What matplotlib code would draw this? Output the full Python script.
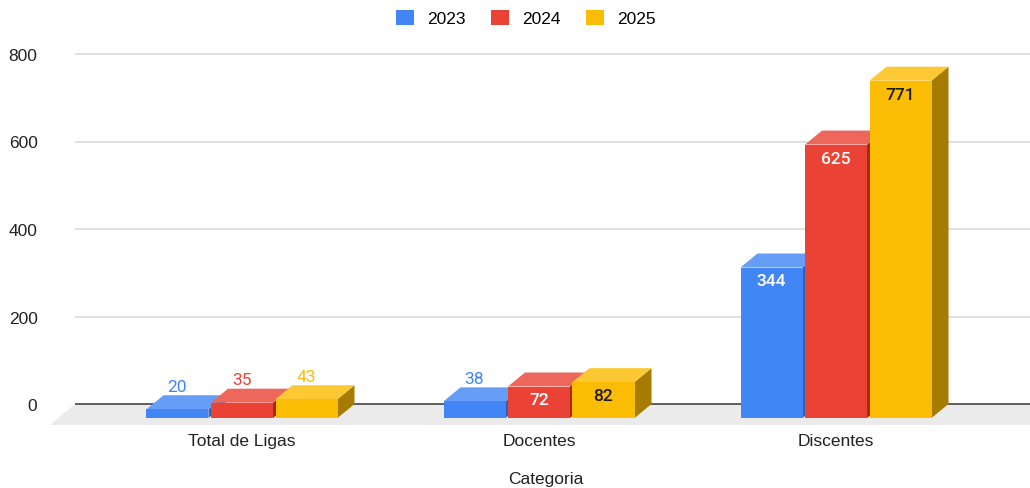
import matplotlib.pyplot as plt
from matplotlib.patches import Polygon, Patch

# ----------------------------
# Data
# ----------------------------
categories = ["Total de Ligas", "Docentes", "Discentes"]
years = ["2023", "2024", "2025"]
values_2023 = [20, 38, 344]
values_2024 = [35, 72, 625]
values_2025 = [43, 82, 771]
series = [values_2023, values_2024, values_2025]

front_colors = ["#4285f4", "#ea4335", "#fbbc04"]
top_colors = ["#669df6", "#ee675c", "#fcc934"]
side_colors = ["#2f5fbf", "#a9281c", "#a67c00"]
label_inside = ["white", "white", "#1a1a1a"]

# ----------------------------
# Layout (pixel based)
# ----------------------------
W, H = 1030, 489
fig = plt.figure(figsize=(W / 100, H / 100), dpi=100)
ax_left, ax_right, ax_top, ax_bot = 75, 1030, 40, 430
ax = fig.add_axes([ax_left / W, (H - ax_bot) / H,
                   (ax_right - ax_left) / W, (ax_bot - ax_top) / H])

px_x = 297.0          # pixels per category
px_y = 0.4375         # pixels per unit
x0_px, y0_px = 242, 405
ax.set_xlim((ax_left - x0_px) / px_x, (ax_right - x0_px) / px_x)
ax.set_ylim((y0_px - ax_bot) / px_y, (y0_px - ax_top) / px_y)

depth_x = 17 / px_x
depth_y = 14 / px_y
bar_w = 62 / px_x
pitch = 64.5 / px_x

for s in ax.spines.values():
    s.set_visible(False)

# gridlines
for v in [200, 400, 600, 800]:
    ax.axhline(v, color="#dadada", lw=1.2, zorder=1)

# floor
fd_y = 21 / px_y
fd_x = 25 / px_x
xl, xr = ax.get_xlim()
floor = Polygon([(xl, 0), (xr, 0), (xr, -fd_y), (xl - fd_x, -fd_y)],
                closed=True, facecolor="#ebebeb", edgecolor="none",
                zorder=1, clip_on=False)
ax.add_patch(floor)
ax.axhline(0, color="#444444", lw=1.2, zorder=2)

# ----------------------------
# 3D bars
# ----------------------------
z = 3
for ci in range(len(categories)):
    for si, vals in enumerate(series):
        v = vals[ci]
        cx = ci + (si - 1) * pitch
        a, b = cx - bar_w / 2, cx + bar_w / 2
        bot, top = -depth_y, v - depth_y
        side = Polygon([(b, bot), (b + depth_x, 0), (b + depth_x, v), (b, top)],
                       facecolor=side_colors[si], edgecolor="none", zorder=z)
        topf = Polygon([(a, top), (b, top), (b + depth_x, v), (a + depth_x, v)],
                       facecolor=top_colors[si], edgecolor="none", zorder=z)
        front = Polygon([(a, bot), (b, bot), (b, top), (a, top)],
                        facecolor=front_colors[si], edgecolor="none", zorder=z + 1)
        ax.add_patch(side)
        ax.add_patch(topf)
        ax.add_patch(front)
        z += 2

        if v > 60:
            ax.text(cx, top - 13.5 / px_y, str(v), ha="center", va="center",
                    fontsize=12.5, family="Roboto", fontweight="medium",
                    color=label_inside[si], zorder=50)
        else:
            ax.text(cx, v + 9 / px_y, str(v), ha="center", va="center",
                    fontsize=12.5, family="Roboto",
                    color=front_colors[si], zorder=50)

# ----------------------------
# Axes text
# ----------------------------
ax.set_yticks([0, 200, 400, 600, 800])
ax.set_yticklabels(["0", "200", "400", "600", "800"], family="Liberation Sans",
                   fontsize=12.5, color="#222222")
ax.tick_params(axis="y", length=0, pad=27)
ax.set_xticks(range(len(categories)))
ax.set_xticklabels(categories, family="Liberation Sans", fontsize=12.5,
                   color="#222222")
ax.tick_params(axis="x", length=0, pad=3)
fig.text(546 / W, 1 - 480 / H, "Categoria", family="Liberation Sans",
         fontsize=12.5, color="#222222", ha="center", va="center")

handles = [Patch(facecolor=c, edgecolor="none", label=y)
           for c, y in zip(front_colors, years)]
fig.legend(handles=handles, loc="center", bbox_to_anchor=(526 / W, 1 - 19 / H),
           ncol=3, frameon=False, handlelength=1.05, handleheight=1.0,
           handletextpad=0.75, columnspacing=1.45,
           prop={"family": "Liberation Sans", "size": 12.5})

fig.savefig("out.png", dpi=100)
